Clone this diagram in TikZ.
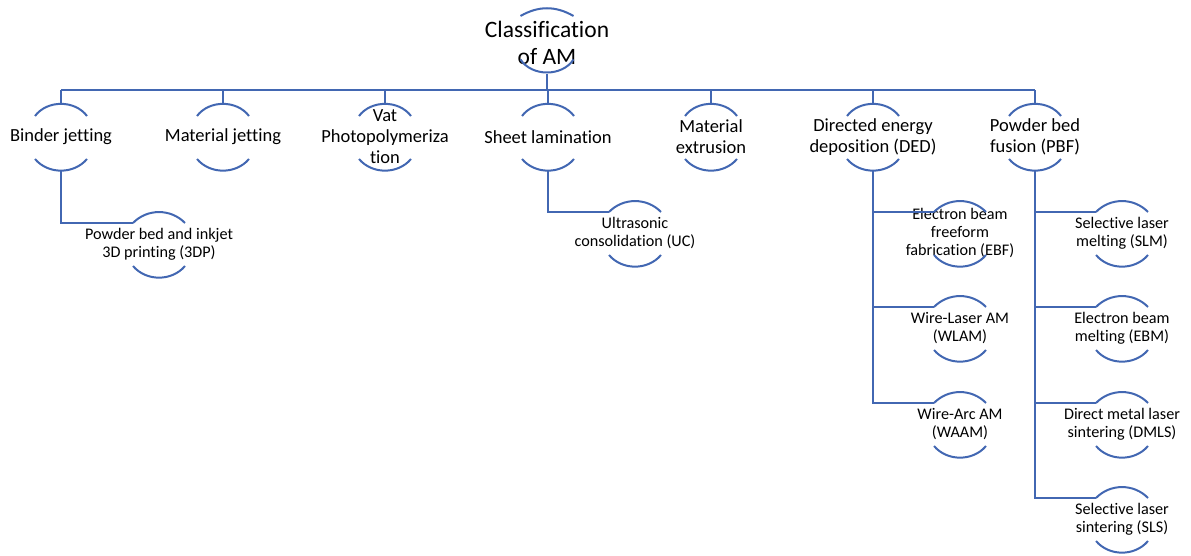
\documentclass[tikz,border=0pt]{standalone}
\usepackage{fontspec}
\setmainfont{Carlito}[Ligatures=NoCommon]
\usepackage{tikz}
\definecolor{amblue}{RGB}{66,103,178}

\begin{document}
\begin{tikzpicture}[x=1pt, y=1pt,
    conn/.style={draw=amblue, line width=2pt},
    arcline/.style={draw=amblue, line width=2pt},
    lvroot/.style={align=center, inner sep=0pt, font=\fontsize{23.5}{27}\selectfont},
    lvone/.style={align=center, inner sep=0pt, font=\fontsize{18.5}{21}\selectfont},
    lvtwo/.style={align=center, inner sep=0pt, font=\fontsize{16.2}{18.2}\selectfont}]
  \useasboundingbox (0,0) rectangle (1191,-556);
  \node[lvroot] (root) at (547,-43) {Classification\\of AM};
  % first level
  \node[lvone] (bj)  at (61,-137) {Binder jetting};
  \node[lvone] (mj)  at (223,-137) {Material jetting};
  \node[lvone] (vat) at (385,-137) {Vat\\Photopolymeriza\\tion};
  \node[lvone] (sl)  at (548,-137) {Sheet lamination};
  \node[lvone] (me)  at (711,-137) {Material\\extrusion};
  \node[lvone] (ded) at (873,-137) {Directed energy\\deposition (DED)};
  \node[lvone] (pbf) at (1035,-137) {Powder bed\\fusion (PBF)};
  % second level
  \node[lvtwo] (pb)   at (159,-244) {Powder bed and inkjet\\3D printing (3DP)};
  \node[lvtwo] (uc)   at (635,-233) {Ultrasonic\\consolidation (UC)};
  \node[lvtwo] (ebf)  at (960,-233) {Electron beam\\freeform\\fabrication (EBF)};
  \node[lvtwo] (wlam) at (960,-328) {Wire-Laser AM\\(WLAM)};
  \node[lvtwo] (waam) at (960,-424) {Wire-Arc AM\\(WAAM)};
  \node[lvtwo] (slm)  at (1122,-233) {Selective laser\\melting (SLM)};
  \node[lvtwo] (ebm)  at (1122,-328) {Electron beam\\melting (EBM)};
  \node[lvtwo] (dmls) at (1122,-424) {Direct metal laser\\sintering (DMLS)};
  \node[lvtwo] (sls)  at (1122,-519) {Selective laser\\sintering (SLS)};

  % arcs above and below each text
  \foreach \n/\w/\te/\tp/\ta/\be/\bp/\ba in {root/26.5/27/34/30/16.5/31/57,
      bj/26/21/34/53/22/34/50, mj/26/21/34/53/22/34/50, vat/26/21/34/53/22/34/50,
      sl/26/21/34/53/22/34/50, me/26/21/34/53/22/34/50, ded/26/21/34/53/22/34/50,
      pbf/26/21/34/53/22/34/50,
      pb/26/21/32/46/22/34/50, uc/26/21/32/46/22/34/50, ebf/26/21/32/46/22/34/50,
      wlam/26/21/32/46/22/34/50, waam/26/21/32/46/22/34/50, slm/26/21/32/46/22/34/50,
      ebm/26/21/32/46/22/34/50, dmls/26/21/32/46/22/34/50, sls/26/21/32/46/22/34/50}{
    \coordinate (\n-in)  at ([shift={(-\w,\te)}]\n.center);
    \coordinate (\n-top) at ([yshift=\tp]\n.center);
    \coordinate (\n-bot) at ([yshift=-\bp]\n.center);
    \draw[arcline] (\n-in) to[bend left=\ta] ([shift={(\w,\te)}]\n.center);
    \draw[arcline] ([shift={(-\w,-\be)}]\n.center) to[bend right=\ba] ([shift={(\w,-\be)}]\n.center);
  }

  % connectors
  \coordinate (bus) at (0,-90);
  \draw[conn] (root-bot) -- (root-bot |- bus);
  \draw[conn] (bj-top |- bus) -- (pbf-top |- bus);
  \foreach \n in {bj,mj,vat,sl,me,ded,pbf}
    \draw[conn] (\n-top) -- (\n-top |- bus);
  \draw[conn] (bj-bot) |- (pb-in);
  \draw[conn] (sl-bot) |- (uc-in);
  \foreach \n in {ebf,wlam,waam}
    \draw[conn] (ded-bot) |- (\n-in);
  \foreach \n in {slm,ebm,dmls,sls}
    \draw[conn] (pbf-bot) |- (\n-in);
\end{tikzpicture}
\end{document}
